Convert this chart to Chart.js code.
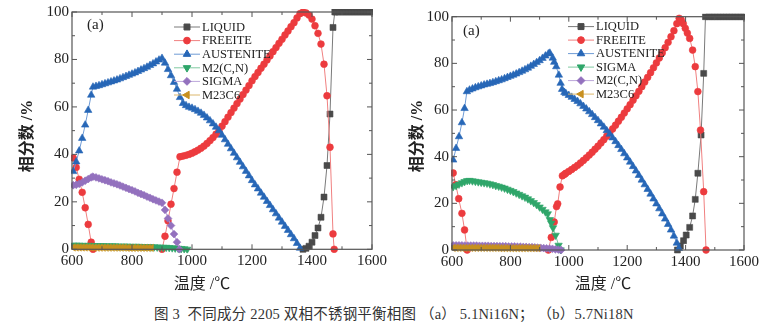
<!DOCTYPE html>
<html>
<head>
<meta charset="utf-8">
<title>2205 双相不锈钢平衡相图</title>
<script src="https://cdn.jsdelivr.net/npm/chart.js@4.4.1/dist/chart.umd.min.js"></script>
<style>
    body { margin: 0; background: #fff; width: 775px; height: 329px; position: relative; overflow: hidden; }
    canvas { position: absolute; top: 0; }
    #chartA { left: 0; }
    #chartB { left: 390px; }
    #caption {
        position: absolute; left: 154px; top: 304px; line-height: 20px;
        font-size: 14.5px; letter-spacing: 0.2px;
        font-family: 'Liberation Serif', 'Noto Sans CJK SC', serif;
        color: #333; white-space: pre;
    }
</style>
</head>
<body>
<canvas id="chartA" width="390" height="295"></canvas>
<canvas id="chartB" width="385" height="295"></canvas>
<div id="caption">图 3  不同成分 2205 双相不锈钢平衡相图 （a） 5.1Ni16N； （b）5.7Ni18N</div>

<script>
/* ===== DATA ===== */

// tick labels
const xTickLabels = [600, 800, 1000, 1200, 1400, 1600];
const xMinorTicks = [700, 900, 1100, 1300, 1500];
const yTickLabels = [0, 20, 40, 60, 80, 100];
const yMinorTicks = [10, 30, 50, 70, 90];

// --- panel (a) 5.1Ni16N ---
const aNames = ['LIQUID', 'FREEITE', 'AUSTENITE', 'M2(C,N)', 'SIGMA', 'M23C6'];

const aLiquidT = [1370, 1380, 1390, 1400, 1410, 1420, 1430, 1440, 1450, 1460, 1470, 1476,
    1480, 1490, 1500, 1510, 1520, 1530, 1540, 1550, 1560, 1570, 1580, 1590, 1600];
const aLiquidV = [0, 0.4, 1.3, 3, 5.8, 9, 13.5, 22, 35.3, 57, 93.5, 100,
    100, 100, 100, 100, 100, 100, 100, 100, 100, 100, 100, 100, 100];

const aFerriteT = [604, 614, 624, 634, 644, 654, 664, 670, 780,
    900, 910, 920, 930, 940, 950, 960, 970, 980, 990,
    1000, 1010, 1020, 1030, 1040, 1050, 1060, 1070, 1080, 1090,
    1100, 1110, 1120, 1130, 1140, 1150, 1160, 1170, 1180, 1190,
    1200, 1210, 1220, 1230, 1240, 1250, 1260, 1270, 1280, 1290,
    1300, 1310, 1320, 1330, 1340, 1350, 1360, 1370, 1380, 1390,
    1400, 1410, 1420, 1430, 1440, 1450, 1460, 1470, 1474];
const aFerriteV = [38.5, 34.5, 29.5, 24, 17.5, 10.5, 3, 0, null,
    0, 5.5, 12, 19, 25.6, 32.5, 39, 39.3, 39.6, 40,
    40.5, 41.1, 41.8, 42.6, 43.5, 44.6, 45.8, 47.1, 48.5, 50,
    51.9, 53.8, 55.7, 57.6, 59.5, 61.4, 63.3, 65.2, 67.1, 69,
    71, 72.8, 74.5, 76.3, 78, 79.8, 81.5, 83.3, 85, 86.8,
    88.5, 90.3, 92, 93.8, 95.5, 97.5, 99.3, 100, 99.6, 98.7,
    97, 94.2, 91, 86.5, 78, 64.7, 43, 6.5, 0];

const aAustT = [604, 614, 624, 634, 644, 654, 664, 670,
    680, 690, 700, 710, 720, 730, 740, 750, 760, 770, 780, 790,
    800, 810, 820, 830, 840, 850, 860, 870, 880, 890,
    900, 910, 920, 930, 940, 950, 960, 970, 980, 990,
    1000, 1010, 1020, 1030, 1040, 1050, 1060, 1070, 1080, 1090,
    1100, 1110, 1120, 1130, 1140, 1150, 1160, 1170, 1180, 1190,
    1200, 1210, 1220, 1230, 1240, 1250, 1260, 1270, 1280, 1290,
    1300, 1310, 1320, 1330, 1340, 1350, 1360];
const aAustV = [32.8, 36.9, 41.5, 46.8, 52.4, 58.6, 65, 68.4,
    68.7, 69.0, 69.4, 69.8, 70.2, 70.6, 71.0, 71.4, 71.9, 72.4, 72.9, 73.4,
    73.9, 74.4, 75.0, 75.6, 76.2, 76.8, 77.5, 78.2, 79.0, 79.8,
    80.5, 78.5, 75.8, 73.2, 70.4, 67.5, 64, 61.5, 60.6, 59.9,
    59.5, 58.9, 58.2, 57.4, 56.5, 55.4, 54.2, 52.9, 51.5, 50,
    48.1, 46.2, 44.3, 42.4, 40.5, 38.6, 36.7, 34.8, 32.9, 31,
    29, 27.2, 25.5, 23.7, 22, 20.2, 18.5, 16.7, 15, 13.2,
    11.5, 9.7, 8, 6.2, 4.5, 2.5, 0.5];

const aM2T = [604, 614, 624, 634, 644, 654, 664, 674, 684, 694,
    704, 714, 724, 734, 744, 754, 764, 774, 784, 794,
    804, 814, 824, 834, 844, 854, 864, 874, 884, 894,
    904, 914, 924, 934, 944, 954, 964, 974, 984];
const aM2V = [1.7, 1.7, 1.7, 1.6, 1.6, 1.6, 1.6, 1.5, 1.5, 1.5,
    1.5, 1.4, 1.4, 1.4, 1.4, 1.3, 1.3, 1.3, 1.3, 1.2,
    1.2, 1.2, 1.2, 1.1, 1.1, 1.1, 1.0, 1.0, 0.9, 0.9,
    0.8, 0.8, 0.7, 0.6, 0.5, 0.4, 0.3, 0.2, 0];

const aSigmaT = [604, 614, 624, 634, 644, 654, 664, 670,
    680, 690, 700, 710, 720, 730, 740, 750, 760, 770, 780, 790,
    800, 810, 820, 830, 840, 850, 860, 870, 880, 890,
    900, 910, 920, 930, 940, 950, 958];
const aSigmaV = [27, 27.2, 27.6, 28.2, 28.9, 29.6, 30.3, 30.6,
    30.3, 29.9, 29.5, 29.1, 28.7, 28.2, 27.8, 27.4, 26.9, 26.4, 25.9, 25.4,
    24.9, 24.4, 23.8, 23.3, 22.8, 22.2, 21.7, 21.1, 20.6, 20.1,
    19.6, 16.6, 13, 10, 6.4, 3, 0];

const aM23T = [604, 614, 624, 634, 644, 654, 664, 674, 684, 694,
    704, 714, 724, 734, 744, 754, 764, 774, 784, 794,
    804, 814, 824, 834, 844, 854, 864];
const aM23V = [0.8, 0.8, 0.8, 0.8, 0.8, 0.8, 0.8, 0.7, 0.7, 0.7,
    0.7, 0.7, 0.7, 0.7, 0.7, 0.7, 0.7, 0.7, 0.6, 0.6,
    0.6, 0.6, 0.6, 0.6, 0.6, 0.6, 0.6];

// --- panel (b) 5.7Ni18N ---
const bNames = ['LIQUID', 'FREEITE', 'AUSTENITE', 'SIGMA', 'M2(C,N)', 'M23C6'];

const bLiquidT = [1372, 1382, 1393, 1402, 1414, 1424, 1433, 1442, 1453, 1462, 1468,
    1480, 1490, 1500, 1510, 1520, 1530, 1540, 1550, 1560, 1570, 1580, 1590, 1600];
const bLiquidV = [0, 1.7, 4, 6.4, 9.7, 14.6, 21.7, 32.9, 49.3, 75.7, 100,
    100, 100, 100, 100, 100, 100, 100, 100, 100, 100, 100, 100, 100];

const bFerriteT = [604, 613, 623, 634, 643, 652, 780,
    930, 940, 950, 958, 962, 970, 978, 985, 990,
    1000, 1010, 1020, 1030, 1040, 1050, 1060, 1070, 1080, 1090,
    1100, 1110, 1120, 1130, 1140, 1150, 1160, 1170, 1180, 1190,
    1200, 1210, 1220, 1230, 1240, 1250, 1260, 1270, 1280, 1290,
    1300, 1310, 1320, 1330, 1340, 1350, 1360, 1370, 1378,
    1385, 1392, 1399, 1406, 1414, 1424, 1433, 1442, 1451, 1462, 1470];
const bFerriteV = [33, 28, 22, 15.7, 8.6, 0, null,
    0, 5.4, 12, 18.6, 19.8, 27, 31.8, 32.4, 32.9,
    33.7, 34.5, 35.4, 36.3, 37.3, 38.4, 39.5, 40.7, 41.9, 43.2,
    44.5, 45.9, 47.3, 48.8, 50.3, 51.9, 53.5, 55.2, 56.9, 58.7,
    60.5, 62.3, 64.2, 66.1, 68, 70, 72, 74, 76, 78.1,
    80.2, 82.3, 84.5, 86.7, 89, 91.4, 94, 97, 99.3,
    98.6, 97, 95, 93, 90.7, 85.7, 78.6, 67.9, 51.4, 25, 0];

const bAustT = [604, 614, 624, 634, 643, 651,
    660, 670, 680, 690, 700, 710, 720, 730, 740, 750, 760, 770, 780, 790,
    800, 810, 820, 830, 840, 850, 860, 870, 880, 890,
    900, 910, 920, 930, 935, 945, 950, 957, 966, 972, 977, 985, 990,
    1000, 1010, 1020, 1030, 1040, 1050, 1060, 1070, 1080, 1090,
    1100, 1110, 1120, 1130, 1140, 1150, 1160, 1170, 1180, 1190,
    1200, 1210, 1220, 1230, 1240, 1250, 1260, 1270, 1280, 1290,
    1300, 1310, 1320, 1330, 1340, 1350, 1360, 1370, 1377];
const bAustV = [38.6, 43.6, 48.6, 54.6, 60.7, 67.9,
    68.6, 69.1, 69.6, 70.0, 70.4, 70.8, 71.1, 71.4, 71.8, 72.2, 72.6, 73.0, 73.5, 74.0,
    74.5, 75.0, 75.5, 76.1, 76.7, 77.3, 78.0, 78.8, 79.6, 80.4,
    81.2, 82.2, 83.2, 84.1, 84.4, 82.3, 80.5, 78.6, 75, 71.5, 68.9, 67.6, 67.1,
    66.3, 65.5, 64.6, 63.7, 62.7, 61.6, 60.5, 59.3, 58.1, 56.8,
    55.5, 54.1, 52.7, 51.2, 49.7, 48.1, 46.5, 44.8, 43.1, 41.3,
    39.5, 37.7, 35.8, 33.9, 32, 30, 28, 26, 24, 21.9,
    19.8, 17.7, 15.5, 13.3, 11, 8.6, 6, 3, 0.7];

const bSigmaT = [604, 614, 624, 634, 643, 652,
    660, 670, 680, 690, 700, 710, 720, 730, 740, 750, 760, 770, 780, 790,
    800, 810, 820, 830, 840, 850, 860, 870, 880, 890,
    900, 910, 920, 928, 935, 940, 946, 955, 965, 972];
const bSigmaV = [27.1, 27.6, 28.2, 28.8, 29.3, 29.7,
    29.8, 29.6, 29.4, 29.2, 29.0, 28.8, 28.6, 28.3, 28.0, 27.6, 27.3, 26.9, 26.5, 26.0,
    25.5, 25.0, 24.4, 23.8, 23.2, 22.6, 21.9, 21.1, 20.3, 19.4,
    18.4, 17.4, 16.3, 15.5, 13, 11.5, 9.5, 6.3, 2, 0];

const bM2T = [604, 614, 624, 634, 644, 654, 664, 674, 684, 694,
    704, 714, 724, 734, 744, 754, 764, 774, 784, 794,
    804, 814, 824, 834, 844, 854, 864, 874, 884, 894,
    904, 914, 924, 934, 944, 954, 964, 974];
const bM2V = [2.0, 2.0, 2.0, 2.0, 1.9, 1.9, 1.9, 1.9, 1.9, 1.8,
    1.8, 1.8, 1.8, 1.7, 1.7, 1.7, 1.6, 1.6, 1.6, 1.5,
    1.5, 1.5, 1.4, 1.4, 1.3, 1.3, 1.2, 1.2, 1.1, 1.0,
    0.9, 0.8, 0.7, 0.6, 0.5, 0.3, 0.2, 0];

const bM23T = [604, 614, 624, 634, 644, 654, 664, 674, 684, 694,
    704, 714, 724, 734, 744, 754, 764, 774, 784, 794,
    804, 814, 824, 834, 844, 854, 864, 874, 884, 894];
const bM23V = [0.9, 0.9, 0.9, 0.9, 0.9, 0.9, 0.9, 0.9, 0.9, 0.9,
    0.9, 0.9, 0.9, 0.9, 0.9, 0.9, 0.8, 0.8, 0.8, 0.8,
    0.8, 0.8, 0.8, 0.8, 0.8, 0.8, 0.8, 0.8, 0.8, 0.8];

/* ===== STYLE (Origin-like: colour and marker follow plot order) ===== */
const slotStyles = [
    { mark: '#4a4a4a', line: '#7a7a7a', shape: 'rect',     rot: 0,   r: 4.2 }, // 1 square
    { mark: '#ec3b3e', line: '#f08080', shape: 'circle',   rot: 0,   r: 3.4 }, // 2 circle
    { mark: '#2767b7', line: '#6e9bd6', shape: 'triangle', rot: 0,   r: 4.3 }, // 3 up tri
    { mark: '#2fa66a', line: '#80c9a2', shape: 'triangle', rot: 180, r: 4.3 }, // 4 down tri
    { mark: '#9371be', line: '#bba6da', shape: 'rectRot',  rot: 0,   r: 3.9 }, // 5 diamond
    { mark: '#c8901f', line: '#dcb76c', shape: 'triangle', rot: 270, r: 4.3 }  // 6 left tri
];

const TICK_FONT = '"Liberation Serif", "Times New Roman", serif';

/* ===== PANELS ===== */
const panels = [
    {
        canvas: 'chartA', xMin: 600,
        series: [
            { name: aNames[0], t: aLiquidT,  v: aLiquidV },
            { name: aNames[1], t: aFerriteT, v: aFerriteV },
            { name: aNames[2], t: aAustT,    v: aAustV },
            { name: aNames[3], t: aM2T,      v: aM2V },
            { name: aNames[4], t: aSigmaT,   v: aSigmaV },
            { name: aNames[5], t: aM23T,     v: aM23V }
        ],
        padTop: 10.6, padRight: 18, yAxisW: 72, xAxisH: 45.7,
        legend: { x: 174, y: 27, dy: 13.6 },
        tag: { x: 87, y: 25 },
        yTitle: { x: 28, y: 136 },
        xTitle: { x: 202, y: 285 }
    },
    {
        canvas: 'chartB', xMin: 600,
        series: [
            { name: bNames[0], t: bLiquidT,  v: bLiquidV },
            { name: bNames[1], t: bFerriteT, v: bFerriteV },
            { name: bNames[2], t: bAustT,    v: bAustV },
            { name: bNames[3], t: bSigmaT,   v: bSigmaV },
            { name: bNames[4], t: bM2T,      v: bM2V },
            { name: bNames[5], t: bM23T,     v: bM23V }
        ],
        padTop: 16.7, padRight: 31, yAxisW: 62, xAxisH: 45,
        legend: { x: 178, y: 26.6, dy: 13.5 },
        tag: { x: 73, y: 31.5 },
        yTitle: { x: 28, y: 136 },
        xTitle: { x: 213, y: 285 }
    }
];

function drawMarker(ctx, st, x, y) {
    if (Chart.helpers && Chart.helpers.drawPoint) {
        Chart.helpers.drawPoint(ctx, { pointStyle: st.shape, rotation: st.rot, radius: st.r, borderWidth: 0.6 }, x, y);
    } else {
        ctx.beginPath();
        ctx.arc(x, y, st.r * 0.8, 0, Math.PI * 2);
        ctx.fill();
    }
}

function makePanel(p) {
    const n = p.series.length;

    const datasets = p.series.map((s, i) => {
        const st = slotStyles[i];
        return {
            label: s.name,
            data: s.t.map((t, k) => ({ x: t, y: s.v[k] })),
            showLine: true,
            borderColor: st.line,
            borderWidth: 1,
            backgroundColor: st.mark,
            pointBackgroundColor: st.mark,
            pointBorderColor: st.mark,
            pointBorderWidth: 0.6,
            pointStyle: st.shape,
            pointRotation: st.rot,
            pointRadius: st.r,
            pointHoverRadius: st.r,
            clip: { left: 1, top: 3, right: 1, bottom: 4 },
            order: n - i   // later series on top, like Origin
        };
    });

    // frame, inward ticks, legend, titles
    const decor = {
        id: 'decor',
        afterDraw(chart) {
            const { ctx, chartArea: a, scales } = chart;
            const xs = scales.x, ys = scales.y;
            ctx.save();

            // frame
            ctx.strokeStyle = '#555';
            ctx.lineWidth = 1.2;
            ctx.strokeRect(a.left, a.top, a.right - a.left, a.bottom - a.top);

            // ticks pointing inward on all four sides
            ctx.lineWidth = 1;
            ctx.beginPath();
            const xTick = (v, len) => {
                const px = xs.getPixelForValue(v);
                ctx.moveTo(px, a.bottom); ctx.lineTo(px, a.bottom - len);
                ctx.moveTo(px, a.top);    ctx.lineTo(px, a.top + len);
            };
            const yTick = (v, len) => {
                const py = ys.getPixelForValue(v);
                ctx.moveTo(a.left, py);  ctx.lineTo(a.left + len, py);
                ctx.moveTo(a.right, py); ctx.lineTo(a.right - len, py);
            };
            xTickLabels.forEach(v => xTick(v, 5));
            xMinorTicks.forEach(v => xTick(v, 3));
            yTickLabels.forEach(v => yTick(v, 5));
            yMinorTicks.forEach(v => yTick(v, 3));
            ctx.stroke();

            // legend inside the plot
            const L = p.legend;
            p.series.forEach((s, i) => {
                const st = slotStyles[i];
                const yy = L.y + i * L.dy;
                ctx.strokeStyle = st.line;
                ctx.lineWidth = 1;
                ctx.beginPath();
                ctx.moveTo(L.x, yy); ctx.lineTo(L.x + 26, yy);
                ctx.stroke();
                ctx.fillStyle = st.mark;
                ctx.strokeStyle = st.mark;
                drawMarker(ctx, st, L.x + 13, yy);
                ctx.fillStyle = '#222';
                ctx.font = '12.5px "Liberation Serif"';
                ctx.textAlign = 'left';
                ctx.textBaseline = 'middle';
                ctx.fillText(s.name, L.x + 28, yy + 0.5);
            });

            // panel tag
            ctx.fillStyle = '#222';
            ctx.font = '15px "Liberation Serif"';
            ctx.textAlign = 'left';
            ctx.textBaseline = 'middle';
            ctx.fillText('(a)', p.tag.x, p.tag.y);

            // axis titles
            ctx.textAlign = 'center';
            ctx.font = '16px "Liberation Serif", "Noto Sans CJK SC"';
            ctx.fillText('温度 /℃', p.xTitle.x, p.xTitle.y);

            ctx.translate(p.yTitle.x, p.yTitle.y);
            ctx.rotate(-Math.PI / 2);
            ctx.font = 'bold 16px "Liberation Serif", "Noto Sans CJK SC"';
            ctx.fillText('相分数 /%', 0, 0);

            ctx.restore();
        }
    };

    return new Chart(document.getElementById(p.canvas), {
        type: 'scatter',
        data: { datasets },
        options: {
            responsive: false,
            devicePixelRatio: 1,
            animation: false,
            events: [],
            layout: { padding: { left: 0, right: p.padRight, top: p.padTop, bottom: 0 } },
            plugins: { legend: { display: false }, tooltip: { enabled: false } },
            scales: {
                x: {
                    type: 'linear', min: p.xMin, max: 1600,
                    afterBuildTicks: s => { s.ticks = xTickLabels.map(v => ({ value: v })); },
                    afterFit: s => { s.height = p.xAxisH; },
                    grid: { display: false, drawTicks: false },
                    border: { display: false },
                    ticks: {
                        font: { family: TICK_FONT, size: 15 }, color: '#222', padding: 3,
                        maxRotation: 0, autoSkip: false,
                        callback: v => String(v)
                    }
                },
                y: {
                    type: 'linear', min: 0, max: 100,
                    afterBuildTicks: s => { s.ticks = yTickLabels.map(v => ({ value: v })); },
                    afterFit: s => { s.width = p.yAxisW; },
                    grid: { display: false, drawTicks: false },
                    border: { display: false },
                    ticks: {
                        font: { family: TICK_FONT, size: 15 }, color: '#222', padding: 3,
                        callback: v => String(v)
                    }
                }
            }
        },
        plugins: [decor]
    });
}

panels.forEach(makePanel);
</script>
</body>
</html>
